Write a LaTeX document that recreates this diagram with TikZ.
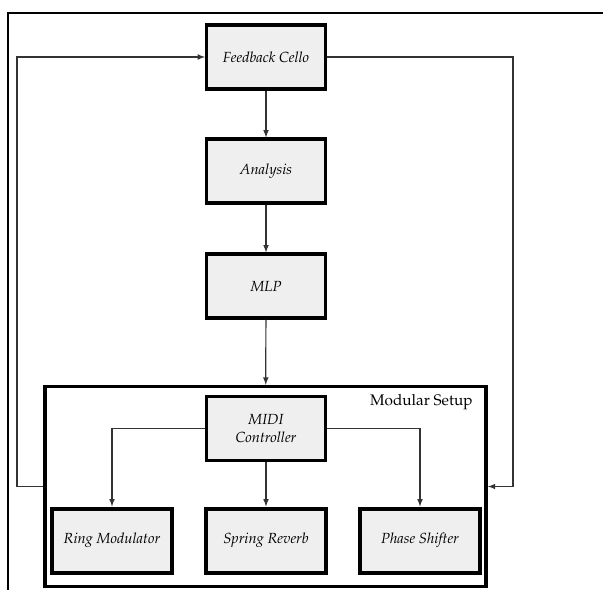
\documentclass[tikz,border=0pt]{standalone}
\usepackage[T1]{fontenc}
\usepackage{mathpazo}
\usepackage{tikz}
\usetikzlibrary{arrows, positioning}
\definecolor{boxgray}{HTML}{EFEFEF}
\definecolor{linegray}{HTML}{333333}

\tikzset{
  block/.style={draw=black, line width=2.4pt, fill=boxgray, minimum width=89pt, minimum height=48pt, font=\fontsize{11}{13}\selectfont\itshape, align=center},
  fxblock/.style={block, line width=3pt, minimum width=90pt},
  groupbox/.style={draw=black, line width=2.6pt, fill=white, minimum width=331pt, minimum height=150pt},
  link/.style={draw=linegray, line width=0.9pt, -{latex[scale=1.4]}}
}

\begin{document}
\begin{tikzpicture}[x=0.75pt, y=-0.75pt]
\useasboundingbox (0,0) rectangle (603,590);
% frame
\draw[line width=1.2pt] (603,13) -- (8,13) -- (8,590);

% main chain
\node[block] (cello) at (266,57) {Feedback Cello};
\node[block] (analysis) at (266,171) {Analysis};
\node[block] (mlp) at (266,286) {MLP};

% modular setup
\node[groupbox] (modular) at (265.5,486.5) {};
\node[anchor=north east, font=\fontsize{11.5}{13}\selectfont] at ([xshift=-8pt, yshift=-4pt]modular.north east) {Modular Setup};
\node[block] (midi) at (266,428.5) {MIDI\\Controller};
\node[fxblock] (ring) at (112,540.5) {Ring Modulator};
\node[fxblock] (spring) at (266,540.5) {Spring Reverb};
\node[fxblock] (phase) at (420,540.5) {Phase Shifter};

\coordinate (lft) at (17,0);
\coordinate (rgt) at (513,0);

\draw[link] (cello) -- (analysis);
\draw[link] (analysis) -- (mlp);
\draw[link] (mlp) -- (modular);
\draw[link] (midi) -- (spring);
\draw[link] (midi.west) -| (ring.north);
\draw[link] (midi.east) -| (phase.north);
% feedback loops
\draw[link] (modular.west) -- (modular.west -| lft) |- (cello.west);
\draw[link] (cello.east) -- (cello.east -| rgt) |- (modular.east);
\end{tikzpicture}
\end{document}
